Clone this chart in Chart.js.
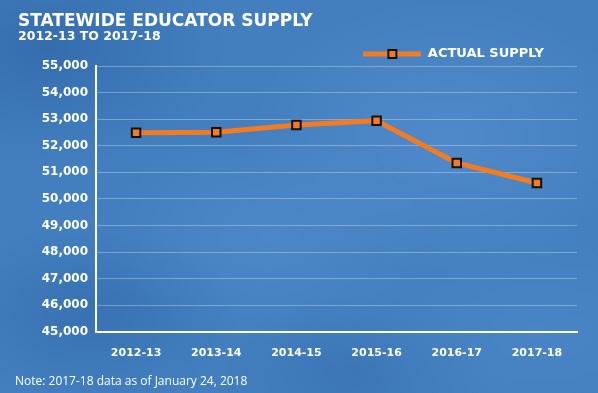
<!DOCTYPE html>
<html>
<head>
<meta charset="utf-8">
<script src="https://cdn.jsdelivr.net/npm/chart.js@4/dist/chart.umd.min.js"></script>
<style>
  html, body { margin: 0; padding: 0; }
  body {
    width: 598px; height: 393px; position: relative; overflow: hidden;
    background-color: #437fbf;
    background-image:
      radial-gradient(ellipse 180px 120px at 8% 12%, rgba(40,95,160,0.55), transparent),
      radial-gradient(ellipse 200px 140px at 75% 35%, rgba(95,150,215,0.45), transparent),
      radial-gradient(ellipse 160px 110px at 45% 60%, rgba(95,150,215,0.35), transparent),
      radial-gradient(ellipse 150px 90px at 15% 80%, rgba(45,100,165,0.5), transparent),
      radial-gradient(ellipse 220px 120px at 90% 85%, rgba(80,140,205,0.45), transparent),
      radial-gradient(ellipse 140px 80px at 60% 95%, rgba(50,105,170,0.45), transparent);
  }
  #chart { position: absolute; left: 0; top: 0; }
  #note {
    position: absolute; left: 15px; top: 372px;
    font: 12px "Open Sans", sans-serif; color: #fff;
  }
</style>
</head>
<body>
<canvas id="chart" width="598" height="393"></canvas>
<div id="note">Note: 2017-18 data as of January 24, 2018</div>
<script>
const years = ['2012-13', '2013-14', '2014-15', '2015-16', '2016-17', '2017-18'];
const supply = [52490, 52510, 52780, 52940, 51350, 50600];
const seriesName = 'ACTUAL SUPPLY';
const yMin = 45000;
const yMax = 55000;
const yStep = 1000;

const ORANGE = '#f47b20';
const FONT = '"DejaVu Sans", sans-serif';

// legend sample: line with square marker, drawn once to a small canvas
const legendIcon = document.createElement('canvas');
legendIcon.width = 58;
legendIcon.height = 14;
(function () {
  const g = legendIcon.getContext('2d');
  g.strokeStyle = ORANGE;
  g.lineWidth = 5;
  g.beginPath();
  g.moveTo(0, 7);
  g.lineTo(58, 7);
  g.stroke();
  g.fillStyle = ORANGE;
  g.fillRect(25, 3, 8, 8);
  g.strokeStyle = '#111';
  g.lineWidth = 2;
  g.strokeRect(25, 3, 8, 8);
})();

// nudge the legend into place (library lays it out at the far right)
const legendNudge = {
  id: 'legendNudge',
  afterLayout(chart) {
    const lg = chart.legend;
    lg.left -= 29; lg.right -= 29;
    lg.top += 4.5; lg.bottom += 4.5;
  }
};

const ctx = document.getElementById('chart').getContext('2d');
new Chart(ctx, {
  type: 'line',
  data: {
    labels: years,
    datasets: [{
      label: seriesName,
      data: supply,
      borderColor: ORANGE,
      borderWidth: 5,
      pointStyle: 'rect',
      pointRadius: 6,
      pointBackgroundColor: ORANGE,
      pointBorderColor: '#111',
      pointBorderWidth: 2,
      tension: 0
    }]
  },
  options: {
    responsive: false,
    animation: false,
    layout: { padding: { left: 18, right: 21, top: 0, bottom: 18 } },
    plugins: {
      title: {
        display: true,
        text: 'STATEWIDE EDUCATOR SUPPLY',
        align: 'start',
        color: '#fff',
        font: { family: FONT, size: 17, weight: 'bold', lineHeight: 1 },
        padding: { top: 13, bottom: 0 }
      },
      subtitle: {
        display: true,
        text: '2012-13 TO 2017-18',
        align: 'start',
        color: '#fff',
        font: { family: FONT, size: 12.5, weight: 'bold', lineHeight: 1 },
        padding: { top: 0.75, bottom: -4.25 }
      },
      legend: {
        position: 'top',
        align: 'end',
        labels: {
          color: '#fff',
          font: { family: FONT, size: 13, weight: 'bold' },
          usePointStyle: true,
          pointStyleWidth: 58,
          padding: 4,
          generateLabels(chart) {
            const items = Chart.defaults.plugins.legend.labels.generateLabels(chart);
            items.forEach(it => { it.pointStyle = legendIcon; });
            return items;
          }
        }
      },
      tooltip: { enabled: false }
    },
    scales: {
      x: {
        offset: true,
        grid: { display: false, drawTicks: false },
        border: { color: '#fff', width: 2 },
        ticks: {
          color: '#fff',
          padding: 15,
          font: { family: FONT, size: 11, weight: 'bold' }
        }
      },
      y: {
        min: yMin,
        max: yMax,
        afterFit(scale) { scale.width = 78; },
        grid: { color: 'rgba(255,255,255,0.3)', lineWidth: 1, drawTicks: false },
        border: { color: '#fff', width: 2 },
        ticks: {
          stepSize: yStep,
          color: '#fff',
          padding: 8,
          font: { family: FONT, size: 12, weight: 'bold' },
          callback: v => v.toLocaleString('en-US')
        }
      }
    }
  },
  plugins: [legendNudge]
});
</script>
</body>
</html>
